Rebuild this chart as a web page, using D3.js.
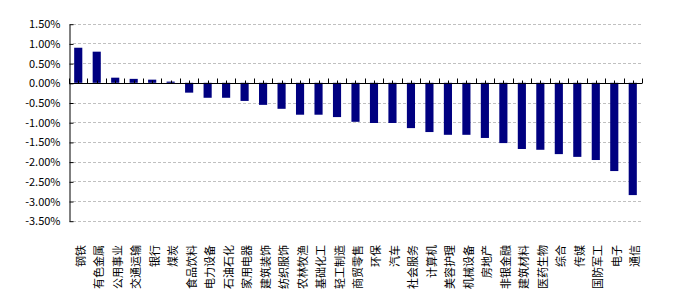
<!DOCTYPE html>
<html>
<head>
<meta charset="utf-8">
<script src="https://cdn.jsdelivr.net/npm/d3@7"></script>
<style>
  body { margin: 0; background: #fff; }
  text { font-family: "SimSun", "Noto Sans CJK SC", sans-serif; }
</style>
</head>
<body>
<svg id="chart" width="682" height="305"></svg>
<script>
// industries, sorted by daily change
var categories = ["钢铁","有色金属","公用事业","交通运输","银行","煤炭","食品饮料","电力设备","石油石化",
  "家用电器","建筑装饰","纺织服饰","农林牧渔","基础化工","轻工制造","商贸零售","环保","汽车",
  "社会服务","计算机","美容护理","机械设备","房地产","非银金融","建筑材料","医药生物","综合",
  "传媒","国防军工","电子","通信"];
// change in percent
var values = [0.89, 0.79, 0.13, 0.10, 0.08, 0.03, -0.25, -0.38, -0.38,
  -0.46, -0.56, -0.66, -0.81, -0.81, -0.87, -0.99, -1.02, -1.02,
  -1.15, -1.25, -1.32, -1.32, -1.40, -1.53, -1.68, -1.70, -1.81,
  -1.88, -1.96, -2.24, -2.85];
var yTicks = [1.5, 1.0, 0.5, 0, -0.5, -1.0, -1.5, -2.0, -2.5, -3.0, -3.5];

var plotLeft = 69, plotRight = 642, plotTop = 23.7, plotBottom = 220.7;
var svg = d3.select("#chart");

var x = d3.scaleBand()
  .domain(categories)
  .range([plotLeft, plotRight])
  .paddingInner(0.56)
  .paddingOuter(0.28);

var y = d3.scaleLinear()
  .domain([-3.5, 1.5])
  .range([plotBottom, plotTop]);

// grid
svg.append("g").selectAll("line")
  .data(yTicks)
  .enter().append("line")
  .attr("x1", plotLeft + 4)
  .attr("x2", plotRight)
  .attr("y1", d => Math.round(y(d)) + 0.5)
  .attr("y2", d => Math.round(y(d)) + 0.5)
  .attr("stroke", "#c0c0c0")
  .attr("stroke-dasharray", "3,2");

// y axis
var yAxis = d3.axisLeft(y)
  .tickValues(yTicks)
  .tickSizeInner(-4)
  .tickSizeOuter(0)
  .tickPadding(9)
  .tickFormat(d => d3.format(".2f")(d).replace("−", "-") + "%");

var yg = svg.append("g")
  .attr("transform", "translate(" + (plotLeft + 0.5) + ",0.5)")
  .call(yAxis);
yg.selectAll("path, line").attr("stroke", "#000");
yg.selectAll("text").attr("font-size", 11).attr("fill", "#000");

// bars
svg.append("g").selectAll("rect")
  .data(values)
  .enter().append("rect")
  .attr("x", (d, i) => x(categories[i]))
  .attr("width", x.bandwidth())
  .attr("y", d => y(Math.max(0, d)))
  .attr("height", d => Math.abs(y(d) - y(0)))
  .attr("fill", "#000080");

// x axis line with ticks pointing up
var zeroY = Math.round(y(0)) + 0.5;
var step = x.step();
svg.append("line")
  .attr("x1", plotLeft).attr("x2", plotRight)
  .attr("y1", zeroY).attr("y2", zeroY)
  .attr("stroke", "#000");

var bounds = d3.range(categories.length + 1).map(i => plotLeft + i * step);
svg.append("g").selectAll("line")
  .data(bounds)
  .enter().append("line")
  .attr("x1", d => Math.round(d) + 0.5)
  .attr("x2", d => Math.round(d) + 0.5)
  .attr("y1", zeroY - 5)
  .attr("y2", zeroY)
  .attr("stroke", "#000");

svg.append("g").selectAll("line")
  .data(categories)
  .enter().append("line")
  .attr("x1", d => Math.round(x(d) + x.bandwidth() / 2) + 0.5)
  .attr("x2", d => Math.round(x(d) + x.bandwidth() / 2) + 0.5)
  .attr("y1", zeroY - 3)
  .attr("y2", zeroY)
  .attr("stroke", "#000");

// category labels, rotated
svg.append("g").selectAll("text")
  .data(categories)
  .enter().append("text")
  .attr("transform", d => "translate(" + (x(d) + x.bandwidth() / 2 + 1.5) + ",245) rotate(-90)")
  .attr("text-anchor", "end")
  .attr("dominant-baseline", "central")
  .attr("font-size", 11)
  .attr("fill", "#000")
  .text(d => d);
</script>
</body>
</html>
